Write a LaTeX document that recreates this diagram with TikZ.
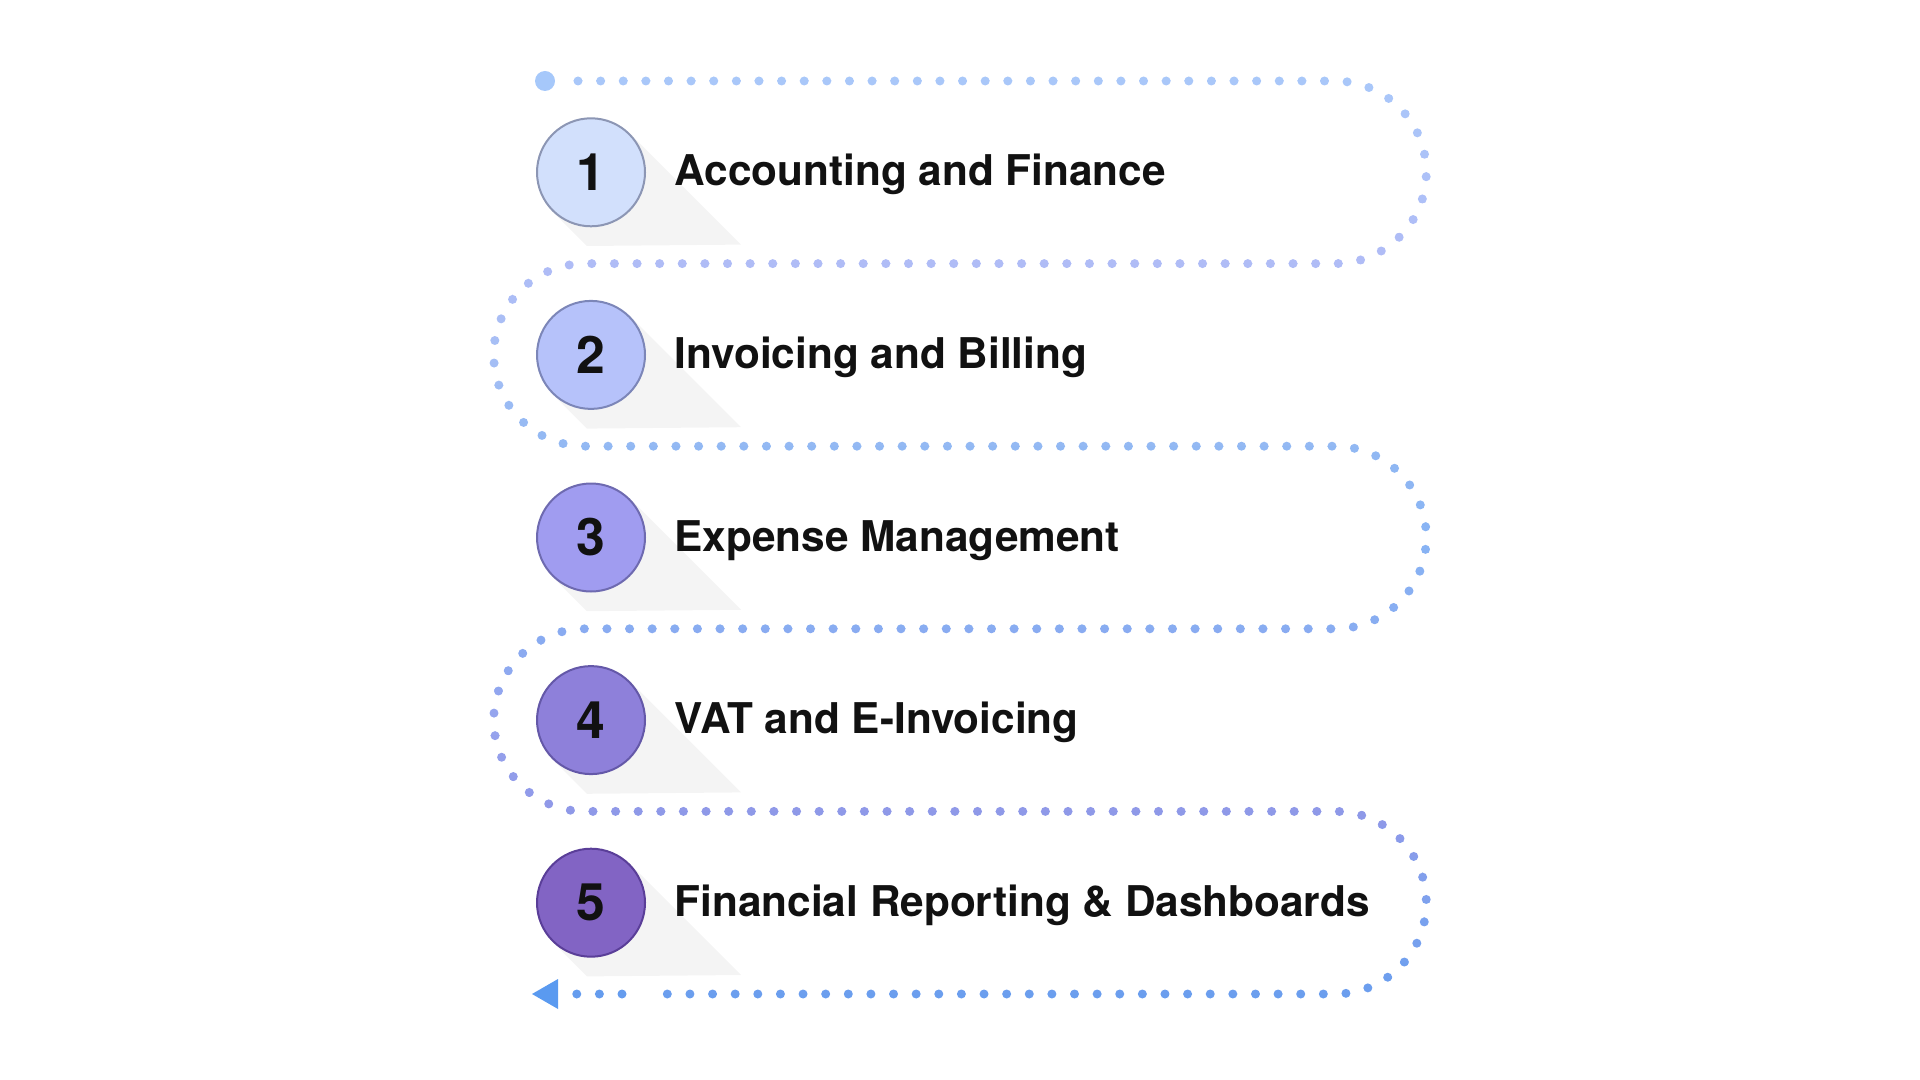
\documentclass[tikz,border=0pt]{standalone}
\usepackage{fontspec}
\setmainfont{TeX Gyre Heros}
\usepackage{xcolor}
\usetikzlibrary{positioning, calc, backgrounds}
\definecolor{ink}{HTML}{111111}
\definecolor{shadowgray}{HTML}{F4F4F4}
\definecolor{disc1}{HTML}{D2E0FC}
\definecolor{disc2}{HTML}{B6C2FA}
\definecolor{disc3}{HTML}{A09CF0}
\definecolor{disc4}{HTML}{8E80DA}
\definecolor{disc5}{HTML}{8264C4}
\definecolor{rim1}{HTML}{8C96B4}
\definecolor{rim2}{HTML}{7C86B8}
\definecolor{rim3}{HTML}{6E6AB0}
\definecolor{rim4}{HTML}{6458A8}
\definecolor{rim5}{HTML}{5A3E98}
\definecolor{startblue}{HTML}{A6C8FA}
\definecolor{tailblue}{HTML}{659CEE}
\definecolor{tipblue}{HTML}{5A9AF0}
% route colours, top to bottom
\definecolor{k0}{HTML}{A9C8F9}
\definecolor{k1}{HTML}{ADC2F8}
\definecolor{k2}{HTML}{B0BCF6}
\definecolor{k3}{HTML}{A6BFF5}
\definecolor{k4}{HTML}{92B8F3}
\definecolor{k5}{HTML}{88B4F4}
\definecolor{k6}{HTML}{88ACF1}
\definecolor{k7}{HTML}{96A4EE}
\definecolor{k8}{HTML}{9098E8}
\definecolor{k9}{HTML}{7EA2EE}
\definecolor{k10}{HTML}{6A9EEE}
\tikzstyle{route} = [line width=0.09cm, line cap=round, dash pattern=on 0pt off 0.22621cm]
\tikzset{
	stepdisc/.style = {circle, minimum size=1.08cm, inner sep=0pt, line width=0.02cm,
		text=ink, font=\bfseries\fontsize{14.7}{16}\selectfont},
	itemtext/.style = {anchor=base west, inner sep=0pt, text=ink,
		font=\bfseries\fontsize{12.05}{14}\selectfont}
}
\newcommand\castshadow[1]{\fill[shadowgray] (#1.45) -- ++(1.112,-1.112) -- ($(#1.225)+(0.348,-0.348)$) -- (#1.225) -- cycle;}
\newcommand\routepath{([xshift=0.33cm]start.center) -- ++(7.57,0)
	arc[start angle=90, end angle=-90, radius=0.913] -- ++(-7.5,0)
	arc[start angle=90, end angle=270, radius=0.913] -- ++(7.5,0)
	arc[start angle=90, end angle=-90, radius=0.913] -- ++(-7.5,0)
	arc[start angle=90, end angle=270, radius=0.913] -- ++(7.5,0)
	arc[start angle=90, end angle=-90, radius=0.913] -- ++(-6.68,0)}

\begin{document}
\begin{tikzpicture}[node distance=1.826cm]
\useasboundingbox (0,0) rectangle (19.2,-10.8);
%----------------------------------------------------------------------------
% Step discs
\node (n1) [stepdisc, fill=disc1, draw=rim1] at (5.91,-1.723) {1};
\node (n2) [stepdisc, fill=disc2, draw=rim2, below of = n1] {2};
\node (n3) [stepdisc, fill=disc3, draw=rim3, below of = n2] {3};
\node (n4) [stepdisc, fill=disc4, draw=rim4, below of = n3] {4};
\node (n5) [stepdisc, fill=disc5, draw=rim5, below of = n4] {5};

% Step texts
\node (t1) [itemtext] at ([xshift=0.28cm, yshift=-0.135cm] n1.east) {Accounting and Finance};
\node (t2) [itemtext] at ([xshift=0.28cm, yshift=-0.135cm] n2.east) {Invoicing and Billing};
\node (t3) [itemtext] at ([xshift=0.28cm, yshift=-0.135cm] n3.east) {Expense Management};
\node (t4) [itemtext] at ([xshift=0.28cm, yshift=-0.135cm] n4.east) {VAT and E-Invoicing};
\node (t5) [itemtext] at ([xshift=0.28cm, yshift=-0.135cm] n5.east) {Financial Reporting \& Dashboards};

% Long shadows
\begin{scope}[on background layer]
\foreach \n in {n1,n2,n3,n4,n5} {\castshadow{\n}}
\end{scope}

%----------------------------------------------------------------------------
% Dotted route
\node (start) [circle, fill=startblue, minimum size=0.2cm, inner sep=0pt] at (5.45,-0.81) {};
\coordinate (finish) at (5.32,-9.94);

\begin{scope}
\clip (0,0) rectangle (19.2,-0.81);
\draw [route, draw=k0] \routepath;
\end{scope}
\foreach \i in {0,...,9} {
	\pgfmathtruncatemacro\j{\i+1}
	\foreach \s in {0,...,5} {
		\pgfmathsetmacro\ytop{-(0.81+0.913*\i+0.913/6*\s)}
		\pgfmathsetmacro\ybot{\ytop-0.913/6}
		\pgfmathsetmacro\pct{100-(\s+0.5)*100/6}
		\begin{scope}
		\clip (0,\ytop) rectangle (19.2,\ybot);
		\draw [route, draw=k\i!\pct!k\j] \routepath;
		\end{scope}
	}
}
\begin{scope}
\clip (0,-9.94) rectangle (19.2,-10.8);
\draw [route, draw=k10] \routepath;
\end{scope}

\draw [route, draw=tailblue] ([xshift=0.9cm] finish) -- ([xshift=0.442cm] finish);
\fill [tipblue] (finish) -- ++(0.26,0.15) -- ++(0,-0.3) -- cycle;

\end{tikzpicture}
\end{document}
